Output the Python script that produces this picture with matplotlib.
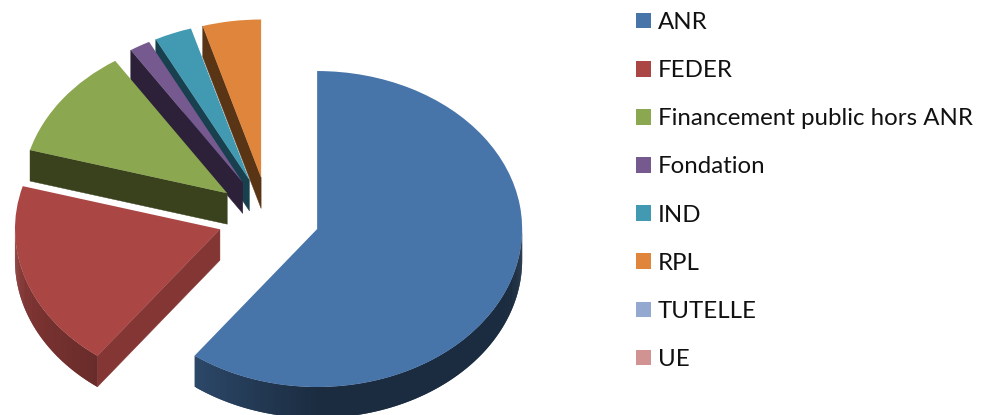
import matplotlib
matplotlib.use('Agg')
import matplotlib.pyplot as plt
import numpy as np
from matplotlib.collections import PolyCollection
from matplotlib.colors import to_rgb

#==============================================================================
# data
labels = ['ANR', 'FEDER', 'Financement public hors ANR', 'Fondation', 'IND', 'RPL', 'TUTELLE', 'UE']
values = [60.2, 19.2, 11.4, 1.65, 2.95, 4.6, 0.0, 0.0]

# style
top_colors = ['#4774a9', '#aa4744', '#8ba74f', '#75598f', '#419ab1', '#e0853c', '#93a9cf', '#d19392']
wall_colors = ['#2c486a', '#833634', '#39421d', '#2c2139', '#18404e', '#5a3515', '#5a6880', '#805a5a']

W, H = 982, 415
rx, ry = 205.0, 158.0   # pixels per pie unit
cx, cy = 268.5, 216.6   # pie centre, pixels
depth = 31.0 / ry

#==============================================================================
fig = plt.figure(figsize=(W / 100, H / 100), dpi=100)
ax = fig.add_axes([0, 0, 1, 1])

wedges, _ = ax.pie(values, explode=[0.25] * len(values), colors=top_colors, startangle=90,
                   counterclock=False, radius=1, wedgeprops={'linewidth': 0})

# squash the round pie into the tilted ellipse
ax.set_aspect('auto')
ax.set_xlim(-cx / rx, (W - cx) / rx)
ax.set_ylim((cy - H) / ry, cy / ry)
ax.axis('off')


def rim_shade(theta):
    '''brightness of the outer wall, light on the left, dark at the front
    theta runs from -180 (left) over -90 (front) to 0 (right)'''
    t = (theta + 180.0) / 90.0
    return np.interp(t, [0, 0.59, 1], [0.81, 0.62, 0.38])


# the slices go back to front: the last one is behind all others
for i, w in enumerate(wedges):
    if values[i] == 0:
        continue
    z = 10 + (len(wedges) - i) * 3
    w.set_zorder(z + 2)
    x0, y0 = w.center
    t1, t2 = w.theta1, w.theta2

    # straight wall, only the edge facing the viewer on the left half
    ang = np.deg2rad(t2)
    if np.cos(ang) < 0:
        ex, ey = x0 + np.cos(ang), y0 + np.sin(ang)
        ax.fill([x0, ex, ex, x0], [y0, ey, ey - depth, y0 - depth],
                color=wall_colors[i], lw=0.3, zorder=z)

    # curved outer wall, only the front half is seen
    # each strip runs on under the next one so no seams show
    a1, a2 = max(t1, -180.0), min(t2, 0.0)
    if a2 > a1:
        edges = np.linspace(a1, a2, int(a2 - a1) * 2 + 2)
        polys, cols = [], []
        base = np.array(to_rgb(top_colors[i]))
        for k in range(len(edges) - 1):
            a = edges[k]
            b = edges[min(k + 2, len(edges) - 1)]
            ra, rb = np.deg2rad(a), np.deg2rad(b)
            xa, ya = x0 + np.cos(ra), y0 + np.sin(ra)
            xb, yb = x0 + np.cos(rb), y0 + np.sin(rb)
            polys.append([(xa, ya), (xb, yb), (xb, yb - depth), (xa, ya - depth)])
            cols.append(base * rim_shade(a))
        ax.add_collection(PolyCollection(polys, facecolors=cols, edgecolors='none',
                                         zorder=z + 1))

#==============================================================================
# legend
plt.rcParams['font.family'] = ['Lato', 'DejaVu Sans']
leg = ax.legend(wedges, labels, loc='upper left', bbox_to_anchor=(636 / W, 1 - 12 / H),
                frameon=False, fontsize=17.3, handlelength=0.625, handleheight=0.625,
                handletextpad=0.29, labelspacing=1.13, borderpad=0, borderaxespad=0,
                labelcolor='#111111')
leg.set_zorder(100)

fig.savefig('out.png', dpi=100)
